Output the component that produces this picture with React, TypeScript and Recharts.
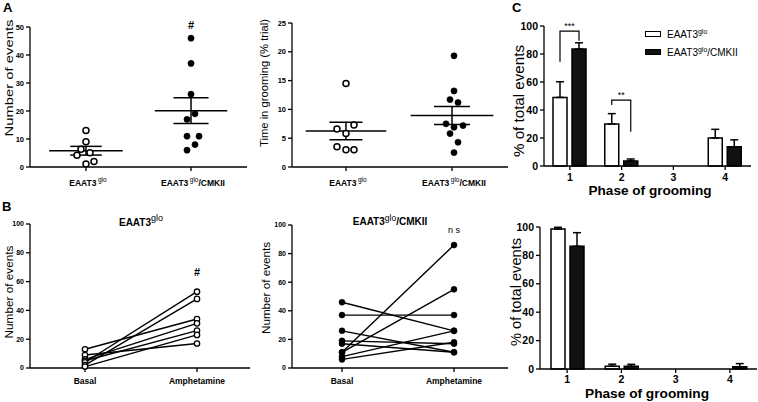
import React from 'react';
import {
  ScatterChart, Scatter, LineChart, Line, BarChart, Bar, ErrorBar,
  XAxis, YAxis, ReferenceLine, ReferenceDot, Legend, LabelList,
} from 'recharts';

const FONT = 'Arial, "Liberation Sans", Helvetica, sans-serif';
const INK = '#000';

// ---------- Panel A ----------
const A_GROUPS = ['EAAT3glo', 'EAAT3glo/CMKII'];
const A1_TICKS = [0, 10, 20, 30, 40, 50];
const A1_GLO = [13, 9, 6.3, 4.2, 5.1, 1.1, 2];
const A1_CMK = [46, 37, 26, 19, 17, 11, 11, 8, 6];
const A2_TICKS = [0, 5, 10, 15, 20, 25];
const A2_GLO = [14.5, 7.3, 6.6, 5.8, 3.5, 3.0, 3.0];
const A2_CMK = [19.3, 13.2, 11.7, 11.2, 7.5, 7.2, 6.9, 5.8, 4.3, 2.5];
// horizontal jitter of the dots, in px
const A1_GLO_JIT = [0, 0, -5, -9, 4, 0, 8];
const A1_CMK_JIT = [0, 0, 0, 4, -4, -4, 8, 4, -4];
const A2_GLO_JIT = [0, 8, -9, 0, -9, 0, 8];
const A2_CMK_JIT = [2, 2, -2, 6, -6, 11, 2, -2, 6, 2];

// ---------- Panel B ----------
const B_PHASES = ['Basal', 'Amphetamine'];
const B_TICKS = [0, 20, 40, 60, 80, 100];
const B1_BASAL = [13, 9, 6, 5, 4, 2, 1];
const B1_AMPH = [34, 17, 31, 26, 53, 48, 23];
const B2_BASAL = [46, 37, 26, 19, 17, 11, 11, 8, 6];
const B2_AMPH = [26, 37, 11, 17, 11, 86, 55, 26, 18];

// ---------- Panel C ----------
const C_PHASES = ['1', '2', '3', '4'];
const C_SERIES = ['EAAT3glo', 'EAAT3glo/CMKII'];
const C_TICKS = [0, 20, 40, 60, 80, 100];
const C1_GLO = [49, 30, 0, 20];
const C1_GLO_SEM = [11.2, 7.4, 0, 6.2];
const C1_CMK = [83.5, 3.6, 0, 13.7];
const C1_CMK_SEM = [4.5, 1.4, 0, 5];
const C1_SIG = ['***', '**', '', ''];
const C1_SIG_TOP = [96.4, 47, 0, 0];
const C1_SIG_LEFT = [74.5, 43.5, 0, 0];
const C1_SIG_RIGHT = [89.5, 24.5, 0, 0];
const C2_GLO = [98.6, 1.9, 0, 0];
const C2_GLO_SEM = [1.2, 1.5, 0, 0];
const C2_CMK = [86.4, 1.9, 0, 1.6];
const C2_CMK_SEM = [9.6, 1.4, 0, 2.2];

function meanSem(a: number[]) {
  const n = a.length;
  const m = a.reduce((s, v) => s + v, 0) / n;
  const sd = Math.sqrt(a.reduce((s, v) => s + (v - m) ** 2, 0) / (n - 1));
  return { m, sem: sd / Math.sqrt(n) };
}

const AXIS = { stroke: INK, strokeWidth: 1.3 };

function supParts(label: string) {
  const [a, b] = label.split('glo');
  return { a, b };
}

const openDot = (p: any) => (
  <circle cx={p.cx + (p.payload?.j ?? 0)} cy={p.cy} r={3} fill="#fff" stroke={INK} strokeWidth={1.5} />
);
const filledDot = (p: any) => (
  <circle cx={p.cx + (p.payload?.j ?? 0)} cy={p.cy} r={3.1} fill={INK} stroke={INK} strokeWidth={0.5} />
);

const textMark = (txt: string, fs: number, weight = 'bold', spacing = 0) => (p: any) => (
  <text x={p.cx} y={p.cy} textAnchor="middle" fontFamily={FONT} fontSize={fs}
    fontWeight={weight} fill={INK} letterSpacing={spacing}>{txt}</text>
);

const YTick = (fs: number) => (p: any) => (
  <text x={p.x} y={p.y} dy={fs * 0.35} textAnchor="end" fontFamily={FONT} fontSize={fs}
    fontWeight="bold" fill={INK}>{p.payload.value}</text>
);

const ATick = (p: any) => {
  const { a, b } = supParts(A_GROUPS[p.payload.value - 1]);
  return (
    <text x={p.x + 2} y={p.y + 13} textAnchor="middle" fontFamily={FONT} fontSize={8.5} fill={INK}>
      <tspan fontWeight="bold">{a}</tspan>
      <tspan fontSize={6.5} dx={1.5} dy={-4}>glo</tspan>
      {b ? <tspan fontWeight="bold" dy={4}>{b}</tspan> : null}
    </text>
  );
};

const BTick = (p: any) => (
  <text x={p.x} y={p.y + 10} textAnchor="middle" fontFamily={FONT} fontSize={8.5}
    fontWeight="bold" fill={INK}>{p.payload.value}</text>
);

const CTick = (dy: number) => (p: any) => (
  <text x={p.x} y={p.y + dy} textAnchor="middle" fontFamily={FONT} fontSize={10.5}
    fontWeight="bold" fill={INK}>{p.payload.value}</text>
);

function semLines(values: number[], xc: number, meanHalf: number, semHalf: number, key: string) {
  const { m, sem } = meanSem(values);
  const st = { stroke: INK, strokeWidth: 1.5 };
  return [
    <ReferenceLine key={key + 'm'} segment={[{ x: xc - meanHalf, y: m }, { x: xc + meanHalf, y: m }]} {...st} />,
    <ReferenceLine key={key + 'h'} segment={[{ x: xc - semHalf, y: m + sem }, { x: xc + semHalf, y: m + sem }]} {...st} />,
    <ReferenceLine key={key + 'l'} segment={[{ x: xc - semHalf, y: m - sem }, { x: xc + semHalf, y: m - sem }]} {...st} />,
    <ReferenceLine key={key + 'v'} segment={[{ x: xc, y: m - sem }, { x: xc, y: m + sem }]} {...st} />,
  ];
}

function ScatterPanel(props: any) {
  const { w, h, margin, yW, xDomain, yMax, yTicks, glo, cmk, gloJit, cmkJit, meanHalf, semHalf, hash } = props;
  const gloData = glo.map((v: number, i: number) => ({ x: 1, y: v, j: gloJit[i] }));
  const cmkData = cmk.map((v: number, i: number) => ({ x: 2, y: v, j: cmkJit[i] }));
  return (
    <ScatterChart width={w} height={h} margin={margin}>
      <XAxis type="number" dataKey="x" domain={xDomain} ticks={[1, 2]} tick={ATick} tickSize={4}
        axisLine={AXIS} tickLine={AXIS} height={30} allowDataOverflow />
      <YAxis type="number" dataKey="y" domain={[0, yMax]} ticks={yTicks} interval={0} width={yW}
        tickSize={4} tick={YTick(7.5)} axisLine={AXIS} tickLine={AXIS} allowDataOverflow />
      {semLines(glo, 1, meanHalf[0], semHalf[0], 'g')}
      {semLines(cmk, 2, meanHalf[1], semHalf[1], 'c')}
      <Scatter data={gloData} shape={openDot} isAnimationActive={false} />
      <Scatter data={cmkData} shape={filledDot} isAnimationActive={false} />
      {hash ? <ReferenceDot x={2} y={hash} r={0} shape={textMark('#', 11)} /> : null}
    </ScatterChart>
  );
}

function LinePanel(props: any) {
  const { w, h, margin, yW, basal, amph, open, mark, pad } = props;
  const rows = B_PHASES.map((t, k) => {
    const row: any = { t };
    (k === 0 ? basal : amph).forEach((v: number, i: number) => { row['s' + i] = v; });
    return row;
  });
  const dot = open
    ? { r: 2.7, fill: '#fff', stroke: INK, strokeWidth: 1.3 }
    : { r: 3, fill: INK, stroke: INK, strokeWidth: 0.5 };
  return (
    <LineChart width={w} height={h} data={rows} margin={margin}>
      <XAxis dataKey="t" height={34} tickSize={4} tick={BTick} axisLine={AXIS} tickLine={AXIS}
        padding={pad} />
      <YAxis domain={[0, 100]} ticks={B_TICKS} interval={0} width={yW} tickSize={4} tick={YTick(7)}
        axisLine={AXIS} tickLine={AXIS} />
      {basal.map((_: number, i: number) => (
        <Line key={i} dataKey={'s' + i} stroke={INK} strokeWidth={1.4} dot={dot}
          activeDot={false} isAnimationActive={false} />
      ))}
      {mark}
    </LineChart>
  );
}

const bracket = (props: any) => {
  const i = props.index;
  if (!C1_SIG[i]) return null;
  const vb = props.viewBox && props.viewBox.width !== undefined ? props.viewBox : props;
  const x = Number(vb.x), y = Number(vb.y), width = Number(vb.width), height = Number(vb.height);
  const value = Number(C1_CMK[i]);
  const unit = height / value;
  const base = y + height;
  const py = (v: number) => base - v * unit;
  const cR = x + width / 2;
  const cL = cR - width - 5;
  const top = py(C1_SIG_TOP[i]);
  return (
    <g>
      <polyline points={`${cL},${py(C1_SIG_LEFT[i])} ${cL},${top} ${cR},${top} ${cR},${py(C1_SIG_RIGHT[i])}`}
        fill="none" stroke={INK} strokeWidth={1.2} />
      <text x={(cL + cR) / 2} y={top - 2} textAnchor="middle" fontFamily={FONT} fontSize={9}
        fill={INK}>{C1_SIG[i]}</text>
    </g>
  );
};

const CLegend = () => (
  <div style={{ fontFamily: FONT, fontSize: 10, color: INK }}>
    {C_SERIES.map((s, i) => {
      const { a, b } = supParts(s);
      return (
        <div key={s} style={{ display: 'flex', alignItems: 'center', height: 18, whiteSpace: 'nowrap' }}>
          <span style={{ display: 'inline-block', width: 14, height: 4, border: '1.5px solid #000',
            background: i === 0 ? '#fff' : '#111', marginRight: 6 }} />
          <span>{a}<span style={{ fontSize: 7, verticalAlign: 4 }}>glo</span>{b}</span>
        </div>
      );
    })}
  </div>
);

function BarPanel(props: any) {
  const { w, h, margin, yW, xH, glo, gloSem, cmk, cmkSem, tickDy, top } = props;
  const rows = C_PHASES.map((p, i) => ({
    phase: p, glo: glo[i], gloErr: [0, gloSem[i]], cmk: cmk[i], cmkErr: [0, cmkSem[i]],
  }));
  return (
    <BarChart width={w} height={h} data={rows} margin={margin} barGap={5} barSize={14}>
      <XAxis dataKey="phase" height={xH} tickSize={4} tick={CTick(tickDy)} axisLine={AXIS} tickLine={AXIS} />
      <YAxis domain={[0, 100]} ticks={C_TICKS} interval={0} width={yW} tickSize={4} tick={YTick(10.5)}
        axisLine={AXIS} tickLine={AXIS} />
      <Bar dataKey="glo" fill="#fff" stroke={INK} strokeWidth={1.5} isAnimationActive={false}>
        <ErrorBar dataKey="gloErr" direction="y" width={4} stroke={INK} strokeWidth={1.5} />
      </Bar>
      <Bar dataKey="cmk" fill="#111" stroke={INK} strokeWidth={1.5} isAnimationActive={false}>
        <ErrorBar dataKey="cmkErr" direction="y" width={4} stroke={INK} strokeWidth={1.5} />
        {top ? <LabelList dataKey="cmk" content={bracket} /> : null}
      </Bar>
      {top ? (
        <Legend layout="vertical" verticalAlign="middle" align="center" content={CLegend}
          wrapperStyle={{ left: 135, top: 25, width: 112, height: 36 }} />
      ) : null}
    </BarChart>
  );
}

const T = { fontFamily: FONT, fill: INK } as const;

function VTitle({ cx, cy, len, fs, text }: any) {
  return (
    <text x={cx} y={cy} transform={`rotate(-90 ${cx} ${cy})`} textAnchor="middle"
      dominantBaseline="central" fontSize={fs} textLength={len} lengthAdjust="spacingAndGlyphs" {...T}>{text}</text>
  );
}

export default function App() {
  return (
    <div style={{ position: 'absolute', left: 0, top: 0, width: 758, height: 402, background: '#fff', overflow: 'hidden' }}>
      <div style={{ position: 'absolute', left: 0, top: 0 }}>
        <ScatterPanel w={250} h={200} margin={{ top: 27, right: 3, bottom: 3, left: 0 }} yW={30}
          xDomain={[0.467, 2.533]} yMax={50} yTicks={A1_TICKS} glo={A1_GLO} cmk={A1_CMK}
          gloJit={A1_GLO_JIT} cmkJit={A1_CMK_JIT} meanHalf={[0.35, 0.345]} semHalf={[0.15, 0.167]} hash={49.3} />
      </div>
      <div style={{ position: 'absolute', left: 250, top: 0 }}>
        <ScatterPanel w={260} h={200} margin={{ top: 23, right: 2, bottom: 3, left: 0 }} yW={42}
          xDomain={[0.491, 2.528]} yMax={25} yTicks={A2_TICKS} glo={A2_GLO} cmk={A2_CMK}
          gloJit={A2_GLO_JIT} cmkJit={A2_CMK_JIT} meanHalf={[0.38, 0.39]} semHalf={[0.156, 0.17]} />
      </div>
      <div style={{ position: 'absolute', left: 0, top: 200 }}>
        <LinePanel w={252} h={202} margin={{ top: 24, right: 2, bottom: 0, left: 0 }} yW={30}
          basal={B1_BASAL} amph={B1_AMPH} open pad={{ left: 55, right: 53 }}
          mark={<ReferenceDot x="Amphetamine" y={63.6} r={0} shape={textMark('#', 11)} />} />
      </div>
      <div style={{ position: 'absolute', left: 250, top: 200 }}>
        <LinePanel w={260} h={202} margin={{ top: 25, right: 2, bottom: 0, left: 0 }} yW={42}
          basal={B2_BASAL} amph={B2_AMPH} pad={{ left: 50, right: 54 }}
          mark={<ReferenceDot x="Amphetamine" y={94.4} r={0} shape={textMark('n s', 9, 'normal')} />} />
      </div>
      <div style={{ position: 'absolute', left: 510, top: 0 }}>
        <BarPanel w={248} h={200} margin={{ top: 26, right: 7, bottom: 0, left: 0 }} yW={34} xH={34}
          glo={C1_GLO} gloSem={C1_GLO_SEM} cmk={C1_CMK} cmkSem={C1_CMK_SEM} tickDy={9} top />
      </div>
      <div style={{ position: 'absolute', left: 510, top: 200 }}>
        <BarPanel w={248} h={202} margin={{ top: 27, right: 1, bottom: 0, left: 0 }} yW={30} xH={33}
          glo={C2_GLO} gloSem={C2_GLO_SEM} cmk={C2_CMK} cmkSem={C2_CMK_SEM} tickDy={8} />
      </div>
      <svg width={758} height={402} style={{ position: 'absolute', left: 0, top: 0, pointerEvents: 'none' }}>
        <text x={3} y={12} fontSize={13} fontWeight="bold" {...T}>A</text>
        <text x={2} y={211} fontSize={13} fontWeight="bold" {...T}>B</text>
        <text x={512} y={11.5} fontSize={13} fontWeight="bold" {...T}>C</text>

        <VTitle cx={9} cy={78} len={117} fs={11} text="Number of events" />
        <VTitle cx={264} cy={83} len={128} fs={11} text="Time in grooming (% trial)" />
        <VTitle cx={8.5} cy={292} len={93} fs={11} text="Number of events" />
        <VTitle cx={266} cy={288} len={92} fs={11} text="Number of events" />
        <VTitle cx={518} cy={101} len={112} fs={15} text="% of total events" />
        <VTitle cx={515} cy={292} len={108} fs={15} text="% of total events" />

        <text x={650} y={195} textAnchor="middle" fontSize={13.5} fontWeight="bold"
          textLength={123} lengthAdjust="spacingAndGlyphs" {...T}>Phase of grooming</text>
        <text x={647} y={398} textAnchor="middle" fontSize={13.5} fontWeight="bold"
          textLength={124} lengthAdjust="spacingAndGlyphs" {...T}>Phase of grooming</text>

        <text x={141} y={226} textAnchor="middle" fontSize={10} {...T}>
          <tspan fontWeight="bold">EAAT3</tspan><tspan fontSize={9} dy={-5}>glo</tspan>
        </text>
        <text x={390} y={225} textAnchor="middle" fontSize={10} {...T}>
          <tspan fontWeight="bold">EAAT3</tspan><tspan fontSize={8.5} dy={-4}>glo</tspan>
          <tspan fontWeight="bold" dy={4}>/CMKII</tspan>
        </text>
      </svg>
    </div>
  );
}
